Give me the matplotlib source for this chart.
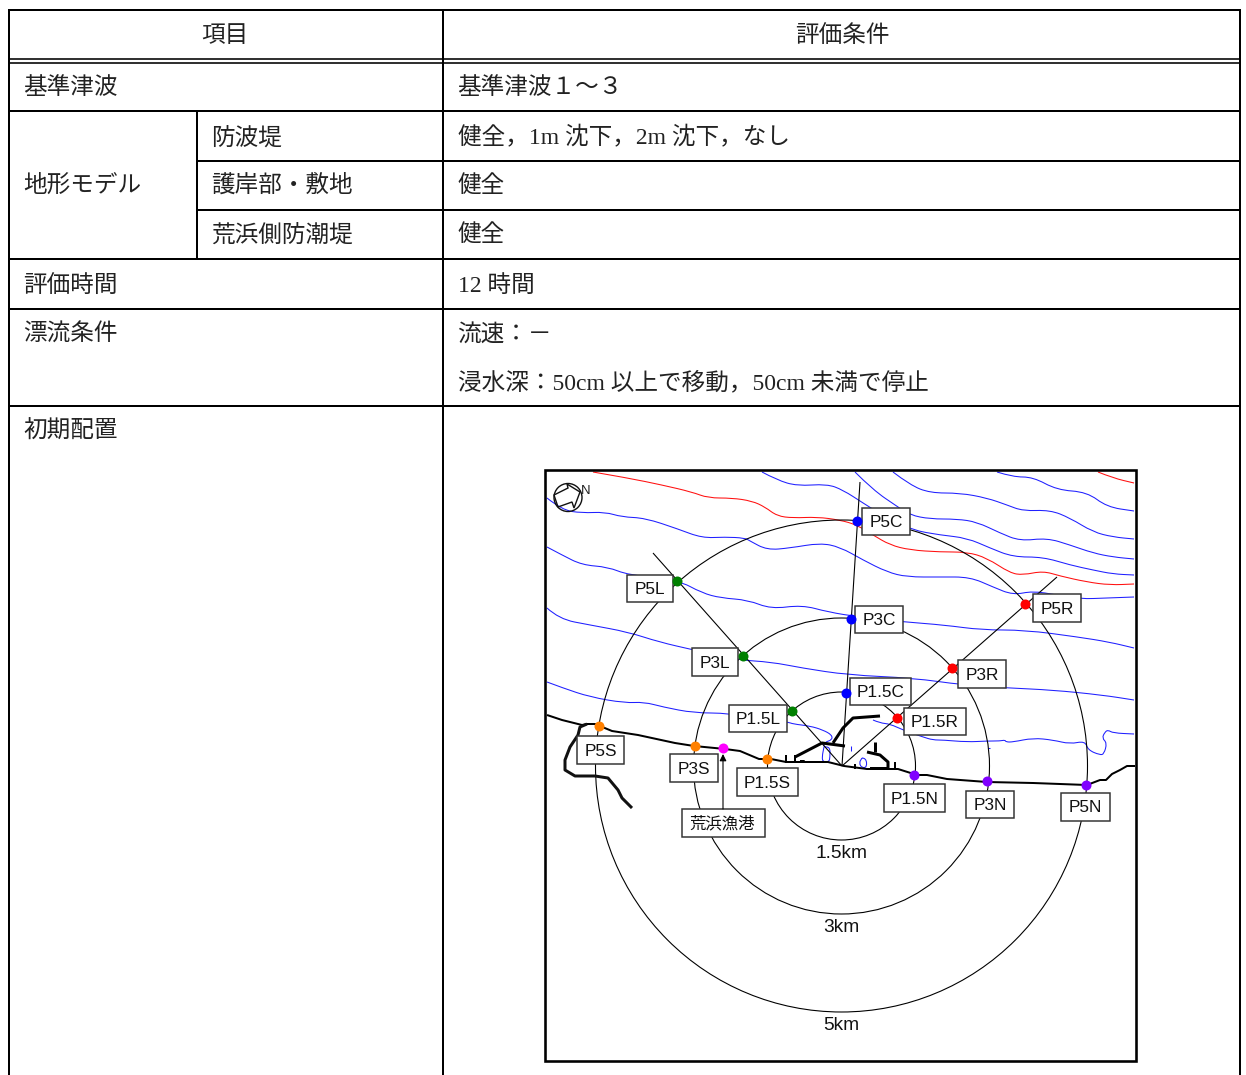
import matplotlib
matplotlib.use("Agg")
import matplotlib.pyplot as plt
from matplotlib.path import Path
from matplotlib.patches import PathPatch, Rectangle, Circle, Polygon

plt.rcParams['font.family'] = ['Noto Sans CJK JP', 'DejaVu Sans']

W, H = 1246, 1075

# ---------- table ----------
table_full_rows = [111, 259, 309, 406]
table_sub_rows = [161, 210]
header_double = [59, 62.5]
table_left, table_right, table_top = 9, 1240, 10
col_main, col_sub = 443, 197

cell_texts = ["項目", "評価条件"]
cell_centres = [225, 842]
left_texts = [
    (23, 87, "基準津波"),
    (457.5, 87, "基準津波１～３"),
    (211, 137, "防波堤"),
    (457.5, 137, "健全，1m 沈下，2m 沈下，なし"),
    (23, 185, "地形モデル"),
    (211, 185, "護岸部・敷地"),
    (457.5, 185, "健全"),
    (211, 234, "荒浜側防潮堤"),
    (457.5, 234, "健全"),
    (23, 285, "評価時間"),
    (457.5, 285, "12 時間"),
    (23, 334, "漂流条件"),
    (457.5, 334, "流速：－"),
    (457.5, 382, "浸水深：50cm 以上で移動，50cm 未満で停止"),
    (23, 431, "初期配置"),
]

# ---------- map ----------
frame = (545, 470, 1135.5, 1061)
centre = (841.5, 766)
radii = [74, 148, 246]
radius_labels = ["1.5km", "3km", "5km"]
radius_label_y = [851, 926, 1024]

apex = (842, 766)
ray_ends = [(860, 482), (653, 553), (1057, 577)]

red_contours = [
    [(593,472),(628,478),(662,485),(692,492),(708,498),(732,498),(752,501),(765,507),(777,516),(793,518),
     (817,517),(840,520),(857,525),(873,535),(890,545),(910,550),(940,552),(967,552),(987,558),(1010,573),
     (1023,575),(1043,571),(1060,576),(1087,582),(1110,585),(1134,584)],
    [(1098,472),(1113,478),(1134,483)],
]
blue_contours = [
    [(997,472),(1013,477),(1033,477),(1057,490),(1087,492),(1107,507),(1134,511)],
    [(893,472),(910,485),(930,493),(960,493),(987,498),(1007,505),(1023,511),(1050,510),(1070,518),(1093,532),(1113,537),(1134,539)],
    [(855,472),(873,490),(898,507),(910,515),(930,519),(957,519),(977,522),(1000,533),(1020,541),(1047,538),(1070,545),(1093,553),(1113,557),(1134,559)],
    [(762,472),(777,480),(797,486),(827,484),(843,490),(863,503),(887,518),(912,530),(940,535),(967,538),(990,548),(1013,557),(1043,557),(1070,565),(1093,570),(1113,574),(1134,575)],
    [(547,498),(562,510),(582,513),(605,512),(622,517),(645,518),(678,529),(702,538),(725,537),(745,538),(750,541),(767,550),(790,548),(820,543),(840,547),(863,560),(887,572),(907,577),(940,577),(970,577),(993,587),(1013,595),(1033,591),(1057,595),(1080,599),(1107,598),(1134,597)],
    [(547,547),(562,555),(582,565),(608,567),(628,575),(678,580),(702,593),(721,598),(748,600),(771,609),(802,605),(828,612),(859,617),(905,622),(944,625),(982,630),(1025,630),(1078,637),(1109,642),(1134,648)],
    [(547,608),(559,619),(590,625),(628,632),(659,642),(694,650),(738,660),(771,662),(802,668),(848,675),(913,678),(963,685),(1009,688),(1052,690),(1102,695),(1134,700)],
    [(547,682),(563,688),(590,697),(625,703),(644,702),(663,707),(694,713),(728,713),(788,722),(793,724),(810,726),(823,730),(832,735),(832,740),(825,742),(823,747),(830,747),(830,757),(829,762),(823,762),(822,757),(824,747)],
    [(873,720),(880,723),(890,724),(903,730),(923,737),(933,740),(943,740),(967,742),(987,741),(1000,741),(1005,740),(1006,742),(1013,742),(1033,738),(1053,740),(1070,744),(1085,741),(1088,750),(1100,755),(1104,754),(1107,743),(1102,738),(1105,732),(1108,730),(1113,733),(1134,734)],
    [(862,758),(866,758),(867,767),(862,768),(859,763),(862,758)],
    [(851,746),(851,751)],
    [(988,748),(990,748)],
]

coast = [(547,715),(562,720),(582,725),(587,724),(595,724),(612,731),(638,735),(675,743),(694,746),(725,749),(740,751),
         (759,759),(771,759),(786,762),(828,762),(844,766),(867,769),(898,769),(917,775),(927,775),(947,779),(987,782),
         (1033,783),(1087,785),(1100,780),(1106,780),(1112,774),(1120,770),(1127,766),(1135,766)]
river = [(587,724),(580,727),(578,735),(570,747),(565,760),(565,770),(575,776),(595,776),(608,778),(618,790),(622,798),(632,808)]
structures = [
    [(795,757),(822,743),(845,746)],
    [(833,743),(843,728),(853,718),(880,716)],
    [(875,742),(875,752)],
    [(867,752),(880,755),(888,762),(888,768)],
]
teeth = [
    [(795,755),(795,763)], [(786,755),(786,763)], [(895,762),(895,770)], [(855,764),(855,769)],
    [(870,768),(887,768)], [(800,761),(804,761),(804,763)],
]

box_names = ["P5C","P3C","P1.5C","P1.5L","P1.5R","P3R","P5R","P5L","P3L","P5S","P3S","P1.5S","P1.5N","P3N","P5N"]
box_x0 = [862,855,850,729,904,958,1033,627,692,577,670,737,884,966,1061]
box_y0 = [508,606,678,705,708,660,594,575,648,736,754,768,784,791,793]
box_x1 = [910,903,911,787,966,1006,1081,673,738,624,718,798,945,1014,1110]
box_y1 = [535,633,705,732,735,688,622,602,676,764,782,796,812,818,821]

harbour_name = "荒浜漁港"
harbour_box = (682, 809, 765, 837)
harbour_arrow = ((723, 809), (723, 754))

dot_x = [857,851,846, 677,743,792, 1025,952,897, 599,695,767, 914,987,1086, 723]
dot_y = [521,619,693, 581,656,711, 604,668,718, 726,746,759, 775,781,785, 748]
dot_colors = ["#0000ff"]*3 + ["#008000"]*3 + ["#ff0000"]*3 + ["#ff8000"]*3 + ["#8000ff"]*3 + ["#ff00ff"]

compass_centre = (568, 497.5)
compass_radius = 14
compass_arrow = [(554,495),(568,488),(567,484),(580,492),(574,508),(572,502),(558,507)]

# ---------- drawing ----------
PX = 0.72
fig = plt.figure(figsize=(W/100, H/100), dpi=100)
ax = fig.add_axes([0, 0, 1, 1])
ax.set_xlim(0, W)
ax.set_ylim(H, 0)
ax.axis("off")


def smooth(points, color, lw, z):
    verts = [points[0]]
    codes = [Path.MOVETO]
    for a, b in zip(points[1:-1], points[2:]):
        verts += [a, ((a[0]+b[0])/2, (a[1]+b[1])/2)]
        codes += [Path.CURVE3, Path.CURVE3]
    verts.append(points[-1])
    codes.append(Path.LINETO)
    ax.add_patch(PathPatch(Path(verts, codes), fill=False, edgecolor=color, lw=lw, zorder=z))


def poly(points, color, lw, z):
    ax.plot([p[0] for p in points], [p[1] for p in points], color=color, lw=lw, zorder=z,
            solid_joinstyle="round", solid_capstyle="butt")


# table lines
tc = "#000000"
tlw = 2*PX
ax.plot([table_left, table_right], [table_top]*2, color=tc, lw=tlw)
for y in header_double:
    ax.plot([table_left, table_right], [y, y], color=tc, lw=1.6*PX)
for y in table_full_rows:
    ax.plot([table_left, table_right], [y, y], color=tc, lw=tlw)
for y in table_sub_rows:
    ax.plot([col_sub, table_right], [y, y], color=tc, lw=tlw)
ax.plot([table_left]*2, [table_top, H], color=tc, lw=tlw)
ax.plot([table_right]*2, [table_top, H], color=tc, lw=tlw)
ax.plot([col_main]*2, [table_top, H], color=tc, lw=tlw)
ax.plot([col_sub]*2, [table_full_rows[0], table_full_rows[1]], color=tc, lw=tlw)

tfs = 17.0
tcolor = "#222222"
table_family = ['Liberation Serif', 'Noto Sans CJK JP']
for t, x in zip(cell_texts, cell_centres):
    ax.text(x, 36, t, ha="center", va="center", fontsize=tfs, color=tcolor, family=table_family)
for x, y, t in left_texts:
    ax.text(x, y + 1, t, ha="left", va="center", fontsize=tfs, color=tcolor, family=table_family)

# map
x0, y0, x1, y1 = frame
ax.add_patch(Rectangle((x0, y0), x1-x0, y1-y0, fill=False, edgecolor="black", lw=2.6*PX, zorder=8))

for c in blue_contours:
    smooth(c, "#2020ff", 1.05*PX, 1)
for c in red_contours:
    smooth(c, "#ff1010", 1.05*PX, 1)

for r in radii:
    ax.add_patch(Circle(centre, r, fill=False, edgecolor="black", lw=1.1*PX, zorder=2))
for e in ray_ends:
    poly([apex, e], "black", 1.1*PX, 2)

poly(coast, "black", 2.0*PX, 3)
poly(river, "#111111", 3*PX, 3)
for s in structures:
    poly(s, "black", 3*PX, 3)
for s in teeth:
    poly(s, "black", 2*PX, 3)

for name, a, b, c, d in zip(box_names, box_x0, box_y0, box_x1, box_y1):
    ax.add_patch(Rectangle((a, b), c-a, d-b, facecolor="white", edgecolor="#333333", lw=1.5*PX, zorder=4))
    ax.text((a+c)/2, (b+d)/2 + 1, name, ha="center", va="center", fontsize=12.4,
            family="Liberation Sans", color="#111111", zorder=6)

a, b, c, d = harbour_box
ax.add_patch(Rectangle((a, b), c-a, d-b, facecolor="white", edgecolor="#333333", lw=1.5*PX, zorder=4))
ax.text((a+c)/2 - 1, (b+d)/2 + 1, harbour_name, ha="center", va="center", fontsize=11.8, color="#111111", zorder=6)

for x, y, c in zip(dot_x, dot_y, dot_colors):
    ax.plot([x], [y], "o", color=c, ms=10*PX, mew=0, zorder=5)

ax.annotate("", xy=harbour_arrow[1], xytext=harbour_arrow[0],
            arrowprops=dict(arrowstyle="-|>", color="black", lw=1.1*PX, mutation_scale=10,
                            shrinkA=0, shrinkB=0), zorder=6)

for lab, y in zip(radius_labels, radius_label_y):
    ax.text(centre[0], y + 2, lab, ha="center", va="center", fontsize=13.8,
            family="Liberation Sans", color="#111111", zorder=6)

ax.add_patch(Circle(compass_centre, compass_radius, fill=False, edgecolor="#111111", lw=1.4*PX, zorder=6))
ax.add_patch(Polygon(compass_arrow, closed=True, fill=False, edgecolor="#111111", lw=1.4*PX, zorder=6))
ax.text(586, 491, "N", ha="center", va="center", fontsize=9.5, family="Liberation Sans", color="#222222", zorder=6)

fig.savefig("out.png", dpi=100)
